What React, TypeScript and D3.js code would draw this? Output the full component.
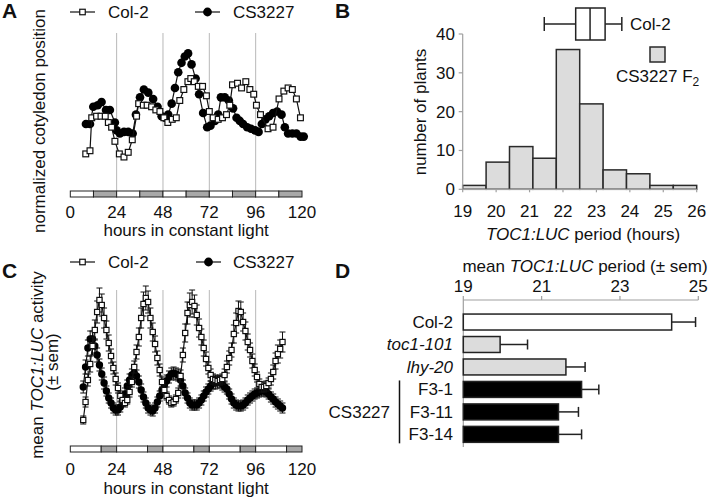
import React from 'react';
import * as d3 from 'd3';

const FONT = '"Liberation Sans", Arial, Helvetica, sans-serif';
const FS = 17;

// ---------- shared ----------
const hourTicks = [0, 24, 48, 72, 96, 120];
const gridHours = [24, 48, 72, 96];

// ---------- Panel A: cotyledon movement ----------
const aCol2Hours = [8.0, 10.2, 11.1, 13.6, 15.9, 18.1, 19.7, 21.4, 23.1, 25.4, 27.8, 30.0, 32.1, 34.3, 35.4, 37.8, 39.8, 42.1, 44.3, 46.4, 48.5, 50.5, 52.8, 54.9, 56.7, 58.8, 60.9, 62.4, 64.2, 66.3, 68.5, 70.5, 72.0, 74.0, 76.6, 78.8, 80.9, 82.6, 84.0, 86.6, 88.7, 90.9, 93.0, 95.0, 96.4, 98.5, 102.4, 105.0, 108.1, 110.6, 112.8, 115.0, 117.1, 119.2];
const aCol2Position = [0.23, 0.25, 0.46, 0.47, 0.47, 0.47, 0.43, 0.40, 0.31, 0.23, 0.21, 0.24, 0.32, 0.47, 0.55, 0.54, 0.54, 0.53, 0.51, 0.50, 0.46, 0.43, 0.45, 0.46, 0.57, 0.64, 0.69, 0.71, 0.69, 0.66, 0.66, 0.60, 0.50, 0.46, 0.45, 0.46, 0.48, 0.54, 0.67, 0.68, 0.65, 0.69, 0.64, 0.61, 0.54, 0.48, 0.39, 0.40, 0.58, 0.63, 0.65, 0.64, 0.58, 0.46];
const aCS3227Hours = [8.1, 10.2, 11.9, 14.2, 16.2, 18.5, 20.5, 23.1, 24.0, 25.7, 27.8, 30.0, 32.3, 34.0, 36.1, 38.1, 40.4, 42.9, 45.2, 47.3, 49.0, 50.7, 52.5, 54.2, 55.9, 57.6, 59.3, 61.0, 62.8, 64.9, 66.7, 68.8, 70.9, 72.6, 74.9, 76.6, 78.0, 80.0, 82.1, 84.3, 86.1, 87.8, 89.5, 91.6, 93.6, 95.7, 97.5, 99.2, 101.1, 103.0, 105.0, 107.1, 109.4, 111.1, 112.8, 115.0, 117.1, 119.3, 120.9];
const aCS3227Position = [0.42, 0.42, 0.53, 0.54, 0.56, 0.51, 0.51, 0.43, 0.38, 0.36, 0.37, 0.37, 0.36, 0.48, 0.59, 0.64, 0.62, 0.58, 0.53, 0.47, 0.46, 0.48, 0.55, 0.65, 0.75, 0.81, 0.85, 0.87, 0.80, 0.71, 0.61, 0.49, 0.40, 0.41, 0.44, 0.48, 0.59, 0.59, 0.57, 0.52, 0.46, 0.44, 0.42, 0.40, 0.39, 0.38, 0.37, 0.42, 0.45, 0.47, 0.49, 0.50, 0.48, 0.40, 0.36, 0.36, 0.36, 0.34, 0.34];
const aLightEdges = [0, 12, 24, 36, 48, 60, 72, 84, 96, 108, 120];

// ---------- Panel B: F2 period histogram ----------
const bBinStarts = [19, 19.7, 20.4, 21.1, 21.8, 22.5, 23.2, 23.9, 24.6, 25.3];
const bBinWidth = 0.7;
const bCounts = [1, 7, 11, 8, 36, 22, 5, 4, 1, 1];
const bXTicks = [19, 20, 21, 22, 23, 24, 25, 26];
const bYTicks = [0, 10, 20, 30, 40];
// whisker low, q1, median, q3, whisker high
const bCol2Box = [21.44, 22.38, 22.81, 23.26, 23.76];

// ---------- Panel C: TOC1:LUC traces ----------
const cStartHour = 6.7;
const cStepHours = 1.2;
const cCol2Mean = [25, 43, 65, 81, 99, 115, 133, 145, 140, 127, 115, 102, 89, 77, 66, 57, 49, 45, 42, 45, 53, 63, 78, 93, 108, 127, 141, 147, 143, 127, 113, 101, 87, 75, 63, 55, 49, 45, 42, 43, 46, 52, 69, 90, 112, 132, 140, 143, 139, 130, 117, 108, 97, 86, 77, 70, 66, 65, 64, 65, 66, 70, 78, 87, 95, 111, 122, 134, 133, 123, 114, 103, 95, 84, 75, 68, 61, 58, 58, 59, 62, 66, 73, 84, 91, 96, 103];
const cCol2Sem = [4, 5, 6, 8, 9, 10, 11, 12, 11, 10, 9, 8, 7, 6, 6, 5, 5, 4, 4, 4, 5, 5, 6, 7, 9, 10, 12, 12, 11, 10, 9, 8, 7, 6, 5, 5, 4, 4, 4, 4, 4, 5, 6, 7, 9, 11, 12, 12, 11, 10, 9, 8, 8, 7, 6, 6, 5, 5, 5, 5, 5, 6, 6, 7, 7, 9, 10, 10, 10, 9, 9, 8, 7, 7, 6, 5, 5, 5, 5, 5, 5, 6, 7, 8, 9, 9, 10];
const cCS3227Mean = [58, 78, 97, 106, 106, 99, 90, 80, 71, 62, 54, 47, 42, 37, 35, 35, 38, 44, 51, 59, 65, 70, 72, 69, 63, 55, 48, 42, 37, 35, 34, 37, 43, 49, 55, 60, 64, 68, 71, 72, 71, 70, 65, 59, 52, 47, 42, 40, 40, 40, 42, 45, 49, 53, 56, 59, 62, 62, 63, 63, 61, 58, 56, 51, 46, 42, 40, 39, 39, 40, 42, 45, 47, 49, 51, 52, 53, 54, 54, 53, 51, 48, 46, 43, 41, 39, 37];
const cCS3227Sem = [6, 7, 8, 8, 8, 7, 7, 6, 6, 6, 5, 5, 5, 5, 5, 5, 5, 5, 6, 6, 6, 6, 7, 6, 6, 6, 5, 5, 5, 5, 5, 5, 5, 5, 6, 6, 6, 6, 6, 6, 6, 6, 6, 6, 5, 5, 5, 5, 5, 5, 5, 5, 5, 5, 5, 5, 6, 6, 6, 6, 6, 5, 5, 5, 5, 5, 5, 5, 5, 5, 5, 5, 5, 5, 5, 5, 5, 5, 5, 5, 5, 5, 5, 5, 5, 5, 5];
const cLightEdges = [0, 16, 24, 40, 48, 64, 72, 88, 96, 112, 120];

// ---------- Panel D: mean periods ----------
const dLines = ['Col-2', 'toc1-101', 'lhy-20', 'F3-1', 'F3-11', 'F3-14'];
const dMeans = [24.32, 19.94, 21.62, 22.02, 21.43, 21.43];
const dSems = [0.61, 0.7, 0.49, 0.44, 0.51, 0.59];
const dGroups = ['control', 'mutant', 'mutant', 'cs3227', 'cs3227', 'cs3227'];
const dTicks = [19, 21, 23, 25];

const GRID = '#b8b8b8';
const AXIS = '#a0a0a0';
const DARKBAR = '#a8a8a8';
const LIGHTFILL = '#dcdcdc';

function LightBar({ x, edges, y }: { x: d3.ScaleLinear<number, number>; edges: number[]; y: number }) {
  return (
    <g>
      {edges.slice(0, -1).map((e, i) => (
        <rect key={i} x={x(e)} y={y} width={x(edges[i + 1]) - x(e)} height={6}
          fill={i % 2 === 1 ? DARKBAR : '#fff'} stroke="#222" strokeWidth={1} />
      ))}
    </g>
  );
}

function Square({ cx, cy, s }: { cx: number; cy: number; s: number }) {
  return <rect x={cx - s / 2} y={cy - s / 2} width={s} height={s} fill="#fff" stroke="#111" strokeWidth={1.2} />;
}

function PanelA() {
  const x = d3.scaleLinear().domain([0, 120]).range([70.3, 302]);
  const y = d3.scaleLinear().domain([0, 1]).range([190, 33]);
  const line = d3.line<[number, number]>().x(d => x(d[0])).y(d => y(d[1]));
  const col2 = aCol2Hours.map((h, i) => [h, aCol2Position[i]] as [number, number]);
  const cs = aCS3227Hours.map((h, i) => [h, aCS3227Position[i]] as [number, number]);
  return (
    <g>
      {gridHours.map(h => <line key={h} x1={x(h)} x2={x(h)} y1={33} y2={190} stroke={GRID} strokeWidth={1} />)}
      <path d={line(cs) || ''} fill="none" stroke="#111" strokeWidth={1.2} />
      {cs.map((d, i) => <circle key={i} cx={x(d[0])} cy={y(d[1])} r={4.3} fill="#000" />)}
      <path d={line(col2) || ''} fill="none" stroke="#111" strokeWidth={1.2} />
      {col2.map((d, i) => <Square key={i} cx={x(d[0])} cy={y(d[1])} s={5.8} />)}
      <LightBar x={x} edges={aLightEdges} y={191} />
      {hourTicks.map(t => <text key={t} x={x(t)} y={218} textAnchor="middle" fontSize={FS}>{t}</text>)}
      <text x={x(60)} y={236} textAnchor="middle" fontSize={FS}>hours in constant light</text>
      <text transform="translate(45,121) rotate(-90)" textAnchor="middle" fontSize={FS}>normalized cotyledon position</text>
      {/* legend */}
      <line x1={70} x2={95} y1={12} y2={12} stroke="#111" strokeWidth={1.2} />
      <Square cx={82.5} cy={12} s={5.5} />
      <text x={108} y={18} fontSize={FS}>Col-2</text>
      <line x1={195} x2={220} y1={12} y2={12} stroke="#111" strokeWidth={1.2} />
      <circle cx={207.5} cy={12} r={4.4} fill="#000" />
      <text x={233} y={18} fontSize={FS}>CS3227</text>
      <text x={2} y={18} fontSize={21} fontWeight="bold">A</text>
    </g>
  );
}

function PanelB() {
  const x = d3.scaleLinear().domain([19, 26]).range([462.7, 696.7]);
  const y = d3.scaleLinear().domain([0, 40]).range([189.3, 34]);
  const [wl, q1, med, q3, wh] = bCol2Box;
  const by = 24;
  return (
    <g>
      {bCounts.map((c, i) => (
        <rect key={i} x={x(bBinStarts[i])} y={y(c)} width={x(bBinStarts[i] + bBinWidth) - x(bBinStarts[i])}
          height={y(0) - y(c)} fill={LIGHTFILL} stroke="#2a2a2a" strokeWidth={1.5} />
      ))}
      <line x1={x(19)} x2={x(26)} y1={y(0)} y2={y(0)} stroke={AXIS} strokeWidth={1.2} />
      <line x1={x(19)} x2={x(19)} y1={y(0)} y2={y(40)} stroke={AXIS} strokeWidth={1.2} />
      {bXTicks.map(t => (
        <g key={t}>
          <line x1={x(t)} x2={x(t)} y1={y(0)} y2={y(0) + 3} stroke={AXIS} strokeWidth={1.2} />
          <text x={x(t)} y={217} textAnchor="middle" fontSize={FS}>{t}</text>
        </g>
      ))}
      {bYTicks.map(t => (
        <g key={t}>
          <line x1={x(19) - 4} x2={x(19)} y1={y(t)} y2={y(t)} stroke={AXIS} strokeWidth={1.2} />
          <text x={455} y={y(t)} dy="0.35em" textAnchor="end" fontSize={FS}>{t}</text>
        </g>
      ))}
      <text x={x(22.6)} y={240} textAnchor="middle" fontSize={FS}>
        <tspan fontStyle="italic">TOC1:LUC</tspan> period (hours)
      </text>
      <text transform="translate(426,112) rotate(-90)" textAnchor="middle" fontSize={FS}>number of plants</text>
      {/* Col-2 box plot */}
      <line x1={x(wl)} x2={x(q1)} y1={by} y2={by} stroke="#222" strokeWidth={1.5} />
      <line x1={x(q3)} x2={x(wh)} y1={by} y2={by} stroke="#222" strokeWidth={1.5} />
      <line x1={x(wl)} x2={x(wl)} y1={by - 7} y2={by + 7} stroke="#222" strokeWidth={1.5} />
      <line x1={x(wh)} x2={x(wh)} y1={by - 7} y2={by + 7} stroke="#222" strokeWidth={1.5} />
      <rect x={x(q1)} y={8} width={x(q3) - x(q1)} height={32} fill="#fff" stroke="#222" strokeWidth={1.5} />
      <line x1={x(med)} x2={x(med)} y1={8} y2={40} stroke="#222" strokeWidth={1.5} />
      <text x={630} y={by} dy="0.35em" fontSize={FS}>Col-2</text>
      <rect x={650} y={47} width={15} height={15} fill={LIGHTFILL} stroke="#2a2a2a" strokeWidth={1.5} />
      <text x={616} y={82} fontSize={FS}>CS3227 F<tspan dy={4} fontSize={12}>2</tspan></text>
      <text x={335} y={18} fontSize={21} fontWeight="bold">B</text>
    </g>
  );
}

function PanelC() {
  const x = d3.scaleLinear().domain([0, 120]).range([70.3, 302]);
  const y = d3.scaleLinear().domain([0, 155]).range([445, 290]);
  const hr = (i: number) => cStartHour + i * cStepHours;
  const line = d3.line<number>().x((_, i) => x(hr(i))).y(d => y(d));
  const errBars = (mean: number[], sem: number[], key: string) =>
    mean.map((m, i) => {
      const cx = x(hr(i));
      return (
        <g key={key + i}>
          <line x1={cx} x2={cx} y1={y(m + sem[i])} y2={y(m - sem[i])} stroke="#111" strokeWidth={1} />
          <line x1={cx - 3} x2={cx + 3} y1={y(m + sem[i])} y2={y(m + sem[i])} stroke="#111" strokeWidth={1} />
          <line x1={cx - 3} x2={cx + 3} y1={y(m - sem[i])} y2={y(m - sem[i])} stroke="#111" strokeWidth={1} />
        </g>
      );
    });
  return (
    <g>
      {gridHours.map(h => <line key={h} x1={x(h)} x2={x(h)} y1={290} y2={445} stroke={GRID} strokeWidth={1} />)}
      {errBars(cCS3227Mean, cCS3227Sem, 'cs')}
      <path d={line(cCS3227Mean) || ''} fill="none" stroke="#111" strokeWidth={1.2} />
      {cCS3227Mean.map((m, i) => <circle key={i} cx={x(hr(i))} cy={y(m)} r={3.7} fill="#000" />)}
      {errBars(cCol2Mean, cCol2Sem, 'col')}
      <path d={line(cCol2Mean) || ''} fill="none" stroke="#111" strokeWidth={1.2} />
      {cCol2Mean.map((m, i) => <Square key={i} cx={x(hr(i))} cy={y(m)} s={5.2} />)}
      <LightBar x={x} edges={cLightEdges} y={446} />
      {hourTicks.map(t => <text key={t} x={x(t)} y={475} textAnchor="middle" fontSize={FS}>{t}</text>)}
      <text x={x(60)} y={494} textAnchor="middle" fontSize={FS}>hours in constant light</text>
      <text transform="translate(43,365) rotate(-90)" textAnchor="middle" fontSize={FS}>
        mean <tspan fontStyle="italic">TOC1:LUC</tspan> activity
      </text>
      <text transform="translate(58,362) rotate(-90)" textAnchor="middle" fontSize={FS}>(± sem)</text>
      {/* legend */}
      <line x1={70} x2={95} y1={262} y2={262} stroke="#111" strokeWidth={1.2} />
      <Square cx={82.5} cy={262} s={5.5} />
      <text x={108} y={268} fontSize={FS}>Col-2</text>
      <line x1={196} x2={221} y1={262} y2={262} stroke="#111" strokeWidth={1.2} />
      <circle cx={208.5} cy={262} r={4.4} fill="#000" />
      <text x={233} y={268} fontSize={FS}>CS3227</text>
      <text x={2} y={278} fontSize={21} fontWeight="bold">C</text>
    </g>
  );
}

function PanelD() {
  const x = d3.scaleLinear().domain([19, 25]).range([463.3, 698.3]);
  const band = d3.scaleBand<string>().domain(dLines).range([310.8, 445.6]).paddingInner(0.29).paddingOuter(0.145);
  const fills: Record<string, string> = { control: '#fff', mutant: LIGHTFILL, cs3227: '#000' };
  return (
    <g>
      <text x={585} y={272} textAnchor="middle" fontSize={FS}>
        mean <tspan fontStyle="italic">TOC1:LUC</tspan> period (± sem)
      </text>
      {dTicks.map(t => (
        <g key={t}>
          <line x1={x(t)} x2={x(t)} y1={300} y2={296} stroke={AXIS} strokeWidth={1.2} />
          <text x={x(t)} y={292} textAnchor="middle" fontSize={FS}>{t}</text>
        </g>
      ))}
      <line x1={x(19)} x2={x(25)} y1={300} y2={300} stroke={AXIS} strokeWidth={1.2} />
      <line x1={x(19)} x2={x(19)} y1={300} y2={447} stroke={AXIS} strokeWidth={1.2} />
      {dLines.map((name, i) => {
        const by = band(name) as number;
        const bh = band.bandwidth();
        const cy = by + bh / 2;
        const italic = dGroups[i] === 'mutant';
        return (
          <g key={name}>
            <rect x={x(19)} y={by} width={x(dMeans[i]) - x(19)} height={bh} fill={fills[dGroups[i]]} stroke="#222" strokeWidth={1.5} />
            <line x1={x(dMeans[i])} x2={x(dMeans[i] + dSems[i])} y1={cy} y2={cy} stroke="#222" strokeWidth={1.5} />
            <line x1={x(dMeans[i] + dSems[i])} x2={x(dMeans[i] + dSems[i])} y1={cy - 5} y2={cy + 5} stroke="#222" strokeWidth={1.5} />
            <text x={453} y={cy} dy="0.35em" textAnchor="end" fontSize={FS} fontStyle={italic ? 'italic' : 'normal'}>{name}</text>
          </g>
        );
      })}
      <line x1={399.5} x2={399.5} y1={(band('F3-1') as number) - 1} y2={(band('F3-14') as number) + band.bandwidth() + 1} stroke="#111" strokeWidth={1.5} />
      <text x={390} y={412} dy="0.35em" textAnchor="end" fontSize={FS}>CS3227</text>
      <text x={335} y={278} fontSize={21} fontWeight="bold">D</text>
    </g>
  );
}

export default function App() {
  return (
    <svg width={711} height={497} style={{ position: 'absolute', left: 0, top: 0, background: '#fff' }}
      fontFamily={FONT} fill="#111">
      <rect x={0} y={0} width={711} height={497} fill="#fff" />
      <PanelA />
      <PanelB />
      <PanelC />
      <PanelD />
    </svg>
  );
}
